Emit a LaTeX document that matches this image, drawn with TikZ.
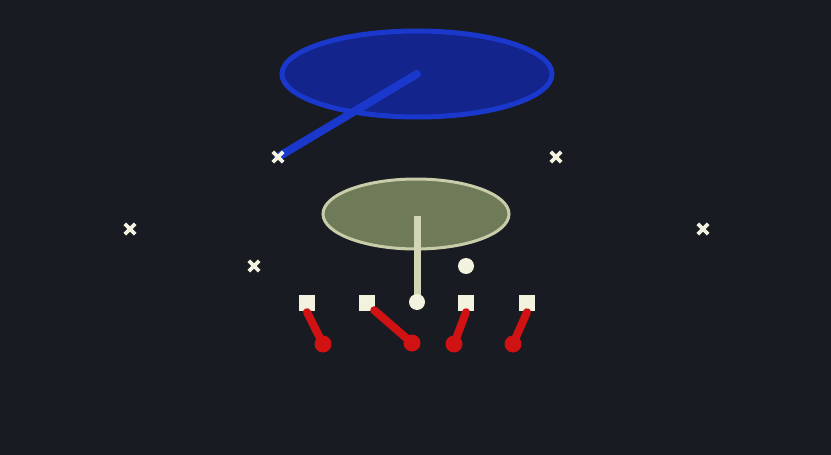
\documentclass[tikz,border=0pt]{standalone}
\begin{document}
\begin{tikzpicture}[x=1pt,y=-1pt,
  defx/.style={minimum size=10pt,inner sep=0pt},
  xmark/.style={draw=cream,line width=3.8pt},
  olsq/.style={rectangle,fill=cream,minimum size=16pt,inner sep=0pt},
  olcirc/.style={circle,fill=cream,minimum size=16pt,inner sep=0pt},
  blocker/.style={draw=redpath,line width=8pt,line cap=round},
  blob/.style={circle,fill=redpath,minimum size=17pt,inner sep=0pt}
]
\definecolor{bg}{HTML}{181B22}
\definecolor{cream}{HTML}{F2F2DE}
\definecolor{redpath}{HTML}{D01212}
\definecolor{bluefill}{HTML}{13248C}
\definecolor{blueedge}{HTML}{1A38CC}
\definecolor{greenfill}{HTML}{6E7A58}
\definecolor{greenedge}{HTML}{C8CCA8}
\definecolor{greenline}{HTML}{D2D6B4}
\fill[bg] (0,0) rectangle (831,455);
\useasboundingbox (0,0) rectangle (831,455);
% zones
\fill[bluefill,draw=blueedge,line width=5pt] (417,74) ellipse [x radius=135,y radius=43];
\coordinate (bz) at (417,74);
\fill[greenfill,draw=greenedge,line width=3pt] (416,214) ellipse [x radius=93,y radius=35];
\coordinate (gz) at (417,216);
% zone drop
\coordinate (d1c) at (278,157);
\draw[blueedge,line width=8pt,line cap=round] (d1c) -- (bz);
% defenders
\node[defx] (d1) at (d1c) {};
\node[defx] (d2) at (556,157) {};
\node[defx] (d3) at (130,229) {};
\node[defx] (d4) at (703,229) {};
\node[defx] (d5) at (254,266) {};
\foreach \n in {d1,d2,d3,d4,d5}
  \draw[xmark] (\n.north west) -- (\n.south east) (\n.north east) -- (\n.south west);
% offense
\coordinate (qbc) at (417,302);
\draw[greenline,line width=7pt] (gz) -- (qbc);
\node[olcirc] (qb) at (qbc) {};
\node[olcirc] (rb) at (466,266) {};
\node[olsq] (o1) at (307,303) {};
\node[olsq] (o2) at (367,303) {};
\node[olsq] (o3) at (466,303) {};
\node[olsq] (o4) at (527,303) {};
% blocking paths
\node[blob] (e1) at (323,344) {};
\node[blob] (e2) at (412,343) {};
\node[blob] (e3) at (454,344) {};
\node[blob] (e4) at (513,344) {};
\draw[blocker] (o1.south) ++(0,1) -- (e1.center);
\draw[blocker] ([xshift=-1pt,yshift=1pt]o2.south east) -- (e2.center);
\draw[blocker] (o3.south) ++(0,1) -- (e3.center);
\draw[blocker] (o4.south) ++(0,1) -- (e4.center);
\end{tikzpicture}
\end{document}
